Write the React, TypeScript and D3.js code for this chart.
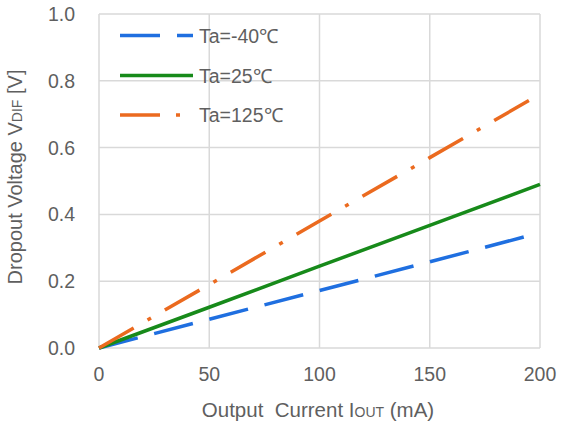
import React from "react";
import * as d3 from "d3";

const currents = [0, 50, 100, 150, 200];
const vMinus40 = [0, 0.086, 0.172, 0.258, 0.345];
const v25 = [0, 0.122, 0.245, 0.367, 0.49];
const v125 = [0, 0.19, 0.38, 0.57, 0.76];
const xTicks = [0, 50, 100, 150, 200];
const yTicks = [0, 0.2, 0.4, 0.6, 0.8, 1.0];
const seriesNames = ["Ta=-40℃", "Ta=25℃", "Ta=125℃"];

const W = 569, H = 425;
const m = { left: 99, right: 29, top: 14, bottom: 77 };

export default function App() {
  const x = d3.scaleLinear().domain([0, 200]).range([m.left, W - m.right]);
  const y = d3.scaleLinear().domain([0, 1]).range([H - m.bottom, m.top]);
  const line = d3.line<number>().x((_, i) => x(currents[i])).y((d) => y(d));
  const series = [
    { name: seriesNames[0], vals: vMinus40, color: "#1f6fe0", dash: "40,17" },
    { name: seriesNames[1], vals: v25, color: "#178a1a", dash: "" },
    { name: seriesNames[2], vals: v125, color: "#eb6a1f", dash: "40,16,4,16" },
  ];
  const grey = "#5f5f5f";
  const font = "Liberation Sans, Arial, sans-serif";
  const legendY = [35.5, 75.5, 115];
  return (
    <svg width={W} height={H} style={{ position: "absolute", left: 0, top: 0, background: "#fff" }} fontFamily={font}>
      <rect width={W} height={H} fill="#fff" />
      {xTicks.map((t) => (
        <line key={"gx" + t} x1={x(t)} x2={x(t)} y1={y(0)} y2={y(1)} stroke="#d9d9d9" strokeWidth={1.5} />
      ))}
      {yTicks.map((t) => (
        <line key={"gy" + t} x1={x(0)} x2={x(200)} y1={y(t)} y2={y(t)} stroke="#d9d9d9" strokeWidth={1.5} />
      ))}
      {xTicks.map((t) => (
        <text key={"tx" + t} x={x(t)} y={y(0) + 33} fontSize={19.5} fill={grey} textAnchor="middle">{t}</text>
      ))}
      {yTicks.map((t) => (
        <text key={"ty" + t} x={75} y={y(t) + 7} fontSize={19.5} fill={grey} textAnchor="end">{t.toFixed(1)}</text>
      ))}
      {series.map((s) => (
        <path key={s.name} d={line(s.vals) || ""} fill="none" stroke={s.color} strokeWidth={3.5} strokeDasharray={s.dash} />
      ))}
      {series.map((s, i) => (
        <g key={"lg" + i}>
          <line x1={120} x2={193} y1={legendY[i]} y2={legendY[i]} stroke={s.color} strokeWidth={3.5} strokeDasharray={s.dash} />
          <text x={199} y={legendY[i] + 7} fontSize={19.5} fill={grey}>{s.name}</text>
        </g>
      ))}
      <text x={318} y={417} fontSize={20.5} fill={grey} textAnchor="middle" style={{ whiteSpace: "pre" }}>
        {"Output  Current I"}<tspan fontSize={14}>OUT</tspan>{" (mA)"}
      </text>
      <text transform={`translate(22, 177) rotate(-90)`} fontSize={20} fill={grey} textAnchor="middle" style={{ whiteSpace: "pre" }}>
        {"Dropout Voltage V"}<tspan fontSize={14}>DIF</tspan>{" [V]"}
      </text>
    </svg>
  );
}
